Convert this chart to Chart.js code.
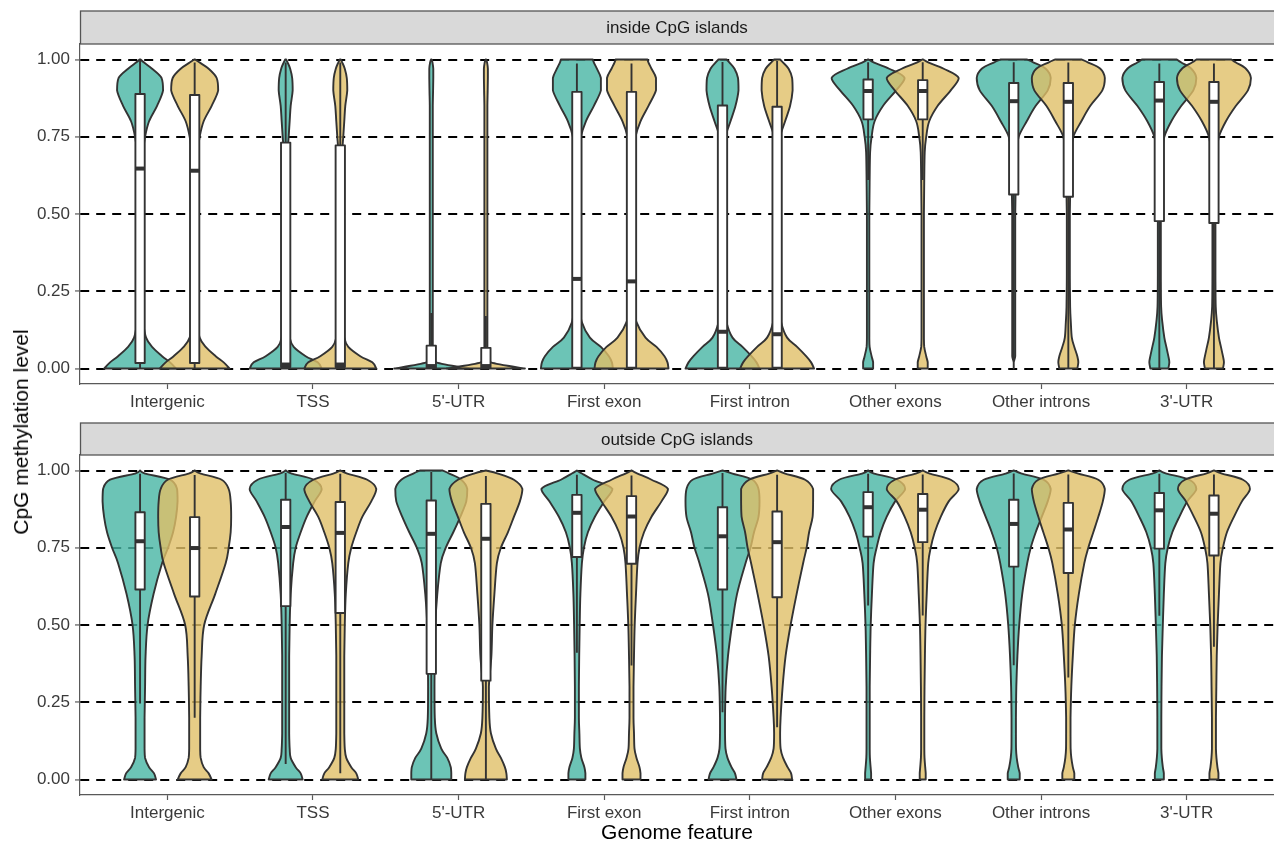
<!DOCTYPE html>
<html>
<head>
<meta charset="utf-8">
<script src="https://cdn.jsdelivr.net/npm/chart.js@4.4.0/dist/chart.umd.min.js"></script>
<style>
  body { margin: 0; background: #fff; width: 1274px; height: 844px; position: relative; overflow: hidden;
         font-family: "Liberation Sans", Arial, sans-serif; }
  #topPanel { position: absolute; left: 0; top: 0; }
  #bottomPanel { position: absolute; left: 0; top: 410px; }
  #yTitle { position: absolute; left: 21px; top: 432px; transform: translate(-50%, -50%) rotate(-90deg);
            font-size: 21px; white-space: nowrap; color: #000; }
</style>
</head>
<body>
<canvas id="topPanel" width="1274" height="410"></canvas>
<canvas id="bottomPanel" width="1274" height="434"></canvas>
<div id="yTitle">CpG methylation level</div>
<script>
// categories on the x axis
const features = ["Intergenic", "TSS", "5'-UTR", "First exon", "First intron", "Other exons", "Other introns", "3'-UTR"];
const groupNames = ["group 1", "group 2"];
const yTicks = [0, 0.25, 0.5, 0.75, 1];

// methylation levels where the violin densities are read
const levelGrid = [0, 0.02, 0.04, 0.07, 0.1, 0.15, 0.2, 0.3, 0.4, 0.5, 0.6, 0.7, 0.75, 0.8, 0.85, 0.9, 0.94, 0.97, 0.99, 1];

// relative densities (violin half widths), one row per feature
const insideTealDensity = [
  [36, 30, 22, 12, 6, 3, 2, 2, 2, 2, 2, 3, 5, 9, 17, 23, 21.5, 12, 4, 0.5],
  [36, 32, 20, 8, 4, 2.5, 2, 2, 2, 2, 2, 2, 3, 4, 5, 7, 6.5, 4.5, 2, 0.5],
  [37, 5, 2, 1.5, 1.5, 1.5, 1.5, 1.5, 1.5, 1.5, 1.5, 1.5, 1.5, 1.5, 1.5, 1.8, 2, 2, 1.2, 0.3],
  [36, 35, 32, 24, 13, 5, 3, 2.5, 2.5, 2.5, 2.5, 3, 4, 9, 17, 24, 24, 20, 17, 16],
  [37, 34, 29, 20, 10, 4, 2.5, 2, 2, 2, 2, 2.5, 3, 8, 13, 16, 15.5, 12, 7, 4],
  [5, 5, 3.5, 1.5, 1.2, 1.2, 1.2, 1.2, 1.2, 1.2, 1.5, 2, 3.5, 6.5, 15, 28, 36.5, 21, 6, 0.5],
  [0, 0, 1.5, 1.5, 1.5, 1.5, 1.5, 1.5, 1.5, 1.5, 2, 3, 5, 13, 22, 34, 37, 32, 20, 13],
  [9, 10, 9, 7, 5, 3, 1.8, 1.5, 1.5, 1.5, 1.8, 3, 5, 12, 22, 34, 37, 32, 22, 17.5]
];
const insideGoldDensity = [
  [35, 29, 21, 11, 5, 3, 2, 2, 2, 2, 2, 3, 5, 9, 17, 23.5, 22, 14, 5, 0.5],
  [36, 32, 20, 8, 4, 2.5, 2, 2, 2, 2, 2, 2, 3, 4, 5, 7, 6.5, 4.5, 2, 0.5],
  [39, 5, 2, 1.5, 1.5, 1.5, 1.5, 1.5, 1.5, 1.5, 1.5, 1.5, 1.5, 1.5, 1.5, 1.8, 2, 2, 1.2, 0.3],
  [37, 36, 33, 25, 14, 5, 3, 2.5, 2.5, 2.5, 2.5, 3, 4, 9, 17, 24.5, 24.5, 20, 17, 16],
  [37, 34, 29, 20, 10, 4, 2.5, 2, 2, 2, 2, 2.5, 3, 8, 13, 15.5, 15, 11.5, 6, 3],
  [5, 5, 3.5, 1.5, 1.2, 1.2, 1.2, 1.2, 1.2, 1.2, 1.5, 2, 3.5, 6.5, 15, 28, 36, 21, 6, 0.5],
  [9, 10, 9, 6, 3.5, 2.5, 1.8, 1.5, 1.5, 1.5, 2, 3, 5, 13, 22, 34, 36.5, 32, 20, 13],
  [9, 10, 9, 7, 5, 3, 1.8, 1.5, 1.5, 1.5, 1.8, 3, 5, 12, 22, 34, 37, 32, 22, 17.5]
];
const outsideTealDensity = [
  [16, 14, 9, 5, 4.5, 4.5, 4.5, 5, 5.5, 7.5, 13.5, 22, 28, 33, 36, 37.5, 37, 30, 5, 0],
  [17, 15, 10, 5, 4, 3.5, 3.5, 3.5, 3.5, 4, 5, 7.5, 10, 15, 21, 29, 36, 28, 6, 0],
  [20, 20, 19.5, 16, 10, 5, 3.5, 3.2, 3.5, 4, 6, 9.5, 14.5, 22, 29, 35, 36, 30, 18, 11],
  [8.5, 8.5, 7.5, 4.5, 3, 2.5, 2, 2, 2.3, 2.8, 3.5, 5, 7, 11, 18, 27.5, 35.5, 16, 5, 0],
  [14, 12.5, 9, 5, 3, 2.5, 2.5, 3.2, 5.5, 9.5, 14.5, 23, 28, 31.5, 36, 37, 36, 30, 10, 0],
  [3, 3, 2.5, 1.8, 1.6, 1.6, 1.6, 1.6, 2, 2.6, 3.8, 5.5, 8.5, 12.5, 18.5, 27, 37, 29, 6, 0],
  [6, 6, 4.5, 3, 2.3, 2.2, 2.2, 2.6, 3.7, 5.5, 8.5, 13.5, 17, 22, 28, 34, 37, 30, 8, 0],
  [4.5, 4.5, 3.5, 2.5, 2, 2, 2, 2.2, 2.6, 3.5, 4.5, 6, 8.5, 13, 20, 28, 37, 30, 7, 0]
];
const outsideGoldDensity = [
  [17, 14, 9, 6, 5.5, 5.5, 5.5, 6, 7, 9.5, 20.5, 31, 34, 36, 36.5, 36, 34, 27, 6, 0],
  [18, 16, 11, 6, 4.5, 4, 4, 4, 4, 4.5, 5.5, 8, 11, 16, 22, 31, 36, 27, 7, 0],
  [21, 20.5, 19, 15, 10, 5, 3.5, 3, 5.5, 6.5, 8.5, 11, 15, 22, 28, 34, 36.5, 28, 12, 0],
  [9, 9, 8, 5, 3, 2.5, 2, 2, 2.5, 3.2, 4.5, 6, 8, 12.5, 20, 30, 36.5, 20, 6, 0],
  [15, 14, 10.5, 6, 3.5, 3, 3.5, 5.5, 8.5, 13.5, 19.5, 26, 29.5, 32, 35.5, 36, 36, 28, 8, 0],
  [3, 3, 2.5, 1.8, 1.6, 1.6, 1.6, 1.8, 2.2, 2.8, 4, 5.5, 8, 12, 18, 26, 36, 28, 7, 0],
  [6, 6, 4.5, 3, 2.3, 2.2, 2.2, 3, 4.5, 6.5, 10.5, 16, 20, 25, 30, 34.5, 36.5, 30, 10, 0],
  [4.5, 4.5, 3.5, 2.5, 2, 2, 2, 2.4, 2.8, 3.7, 5, 6.5, 9, 13, 20, 28, 36, 29, 8, 0]
];

// box plots: [whisker low, Q1, median, Q3, whisker high]
const insideTealBox = [
  [0, 0.018, 0.647, 0.888, 1.0], [0, 0.005, 0.013, 0.731, 0.99], [0, 0.002, 0.008, 0.074, 0.18],
  [0, 0.003, 0.290, 0.895, 0.987], [0, 0.003, 0.119, 0.851, 0.992], [0.61, 0.806, 0.898, 0.935, 0.991],
  [0.03, 0.563, 0.865, 0.924, 0.991], [0, 0.477, 0.867, 0.927, 0.987]
];
const insideGoldBox = [
  [0, 0.018, 0.640, 0.885, 0.99], [0, 0.005, 0.013, 0.722, 0.99], [0, 0.002, 0.008, 0.067, 0.17],
  [0, 0.003, 0.282, 0.895, 0.987], [0, 0.003, 0.111, 0.847, 0.995], [0.61, 0.806, 0.898, 0.933, 0.991],
  [0, 0.556, 0.863, 0.924, 0.99], [0, 0.471, 0.863, 0.927, 0.987]
];
const outsideTealBox = [
  [0.246, 0.615, 0.771, 0.865, 0.989], [0.05, 0.561, 0.817, 0.905, 0.992], [0, 0.342, 0.795, 0.903, 0.995],
  [0.41, 0.720, 0.863, 0.921, 0.986], [0.218, 0.615, 0.787, 0.881, 0.992], [0.563, 0.786, 0.881, 0.930, 0.989],
  [0.37, 0.689, 0.827, 0.905, 0.99], [0.53, 0.747, 0.871, 0.927, 0.989]
];
const outsideGoldBox = [
  [0.20, 0.592, 0.749, 0.849, 0.985], [0.02, 0.539, 0.798, 0.898, 0.989], [0, 0.320, 0.779, 0.892, 0.982],
  [0.369, 0.698, 0.851, 0.917, 0.984], [0.169, 0.590, 0.768, 0.867, 0.986], [0.531, 0.768, 0.873, 0.924, 0.987],
  [0.33, 0.668, 0.809, 0.895, 0.987], [0.43, 0.725, 0.860, 0.919, 0.987]
];

const TEAL = 'rgba(71,181,164,0.8)';
const GOLD = 'rgba(224,191,104,0.8)';
const OUTLINE = '#333333';
const DODGE = 0.1875;          // x offset of each group
const DENSITY_UNIT = 1 / 145.6; // x units per density unit
const BOX_HALF = 0.032;        // box half width in x units
const AXIS_GREY = '#595959';
const TEXT_GREY = '#3a3a3a';

function clamp(v, lo, hi) { return Math.max(lo, Math.min(hi, v)); }

function traceSide(ctx, pts, cx, sign, first) {
  const n = pts.length;
  if (first) ctx.moveTo(cx + sign * pts[0].w, pts[0].y);
  else ctx.lineTo(cx + sign * pts[0].w, pts[0].y);
  for (let i = 0; i < n - 1; i++) {
    const p0 = pts[Math.max(i - 1, 0)], p1 = pts[i], p2 = pts[i + 1], p3 = pts[Math.min(i + 2, n - 1)];
    const lo = Math.min(p1.w, p2.w), hi = Math.max(p1.w, p2.w);
    const c1w = clamp(p1.w + (p2.w - p0.w) / 6, lo, hi);
    const c2w = clamp(p2.w - (p3.w - p1.w) / 6, lo, hi);
    const c1y = p1.y + (p2.y - p0.y) / 6;
    const c2y = p2.y - (p3.y - p1.y) / 6;
    ctx.bezierCurveTo(cx + sign * c1w, c1y, cx + sign * c2w, c2y, cx + sign * p2.w, p2.y);
  }
}

function drawViolin(ctx, xs, ys, xVal, dens, fill) {
  const cx = xs.getPixelForValue(xVal);
  const pxPerUnit = xs.getPixelForValue(xVal + 1) - cx;
  const pts = levelGrid.map((v, k) => ({ y: ys.getPixelForValue(v), w: dens[k] * DENSITY_UNIT * pxPerUnit }));
  ctx.beginPath();
  traceSide(ctx, pts, cx, 1, true);
  traceSide(ctx, pts.slice().reverse(), cx, -1, false);
  ctx.closePath();
  ctx.fillStyle = fill;
  ctx.fill();
  ctx.lineWidth = 1.9;
  ctx.lineJoin = 'round';
  ctx.strokeStyle = OUTLINE;
  ctx.stroke();
}

function drawBox(ctx, xs, ys, xVal, b) {
  const [lo, q1, med, q3, hi] = b;
  const cx = xs.getPixelForValue(xVal);
  const half = xs.getPixelForValue(xVal + BOX_HALF) - cx;
  const yq1 = ys.getPixelForValue(q1), yq3 = ys.getPixelForValue(q3), ym = ys.getPixelForValue(med);
  ctx.strokeStyle = OUTLINE;
  ctx.lineWidth = 1.9;
  ctx.beginPath();
  ctx.moveTo(cx, ys.getPixelForValue(lo)); ctx.lineTo(cx, yq1);
  ctx.moveTo(cx, yq3); ctx.lineTo(cx, ys.getPixelForValue(hi));
  ctx.stroke();
  ctx.fillStyle = '#fff';
  ctx.fillRect(cx - half, yq3, 2 * half, yq1 - yq3);
  ctx.strokeRect(cx - half, yq3, 2 * half, yq1 - yq3);
  ctx.lineWidth = 4;
  ctx.beginPath();
  ctx.moveTo(cx - half, ym); ctx.lineTo(cx + half, ym);
  ctx.stroke();
}

function makeViolinPlugin(groups) {
  return {
    id: 'violins',
    afterDatasetsDraw(chart) {
      const { ctx, scales: { x, y } } = chart;
      ctx.save();
      features.forEach((f, i) => groups.forEach(g => drawViolin(ctx, x, y, i + 1 + g.offset, g.density[i], g.fill)));
      features.forEach((f, i) => groups.forEach(g => drawBox(ctx, x, y, i + 1 + g.offset, g.box[i])));
      ctx.restore();
    }
  };
}

function makeStripPlugin(text, stripTop) {
  return {
    id: 'strip',
    afterDraw(chart) {
      const { ctx, chartArea } = chart;
      ctx.save();
      const left = chartArea.left + 0.5, h = chartArea.top - stripTop;
      ctx.fillStyle = '#D9D9D9';
      ctx.fillRect(left, stripTop, chartArea.right - left + 2, h);
      ctx.strokeStyle = '#555555';
      ctx.lineWidth = 1.3;
      ctx.strokeRect(left, stripTop, chartArea.right - left + 2, h);
      ctx.fillStyle = '#1a1a1a';
      ctx.font = '17px "Liberation Sans", Arial, sans-serif';
      ctx.textAlign = 'center';
      ctx.textBaseline = 'middle';
      ctx.fillText(text, (chartArea.left + chartArea.right) / 2, stripTop + h / 2 + 1);
      ctx.restore();
    }
  };
}

function makePanel(canvasId, stripText, stripTop, padTop, xHeight, tealDensity, goldDensity, tealBox, goldBox, showTitle) {
  const groups = [
    { offset: -DODGE, density: tealDensity, box: tealBox, fill: TEAL },
    { offset: DODGE, density: goldDensity, box: goldBox, fill: GOLD }
  ];
  return new Chart(document.getElementById(canvasId), {
    type: 'scatter',
    data: {
      datasets: groups.map((g, k) => ({
        label: groupNames[k],
        data: features.map((f, i) => ({ x: i + 1 + g.offset, y: g.box[i][2] })),
        pointRadius: 0,
        backgroundColor: g.fill
      }))
    },
    options: {
      responsive: false,
      animation: false,
      events: [],
      layout: { padding: { top: padTop, left: 0, right: 0, bottom: 0 } },
      plugins: { legend: { display: false }, tooltip: { enabled: false } },
      scales: {
        x: {
          type: 'linear', min: 0.4, max: 8.6,
          afterBuildTicks: s => { s.ticks = features.map((f, i) => ({ value: i + 1 })); },
          afterFit: s => { s.height = xHeight; },
          ticks: {
            callback: (v, i) => features[i], autoSkip: false, maxRotation: 0,
            font: { size: 17, family: '"Liberation Sans", Arial, sans-serif' }, color: TEXT_GREY, padding: 3
          },
          grid: { drawOnChartArea: false, drawTicks: true, tickLength: 5, tickColor: AXIS_GREY, tickWidth: 1.2 },
          border: { display: true, color: AXIS_GREY, width: 1.2 },
          title: {
            display: showTitle, text: 'Genome feature', color: '#000',
            font: { size: 21, family: '"Liberation Sans", Arial, sans-serif', lineHeight: 1 },
            padding: { top: 0, bottom: 0 }
          }
        },
        y: {
          type: 'linear', min: -0.05, max: 1.05,
          afterBuildTicks: s => { s.ticks = yTicks.map(v => ({ value: v })); },
          afterFit: s => { s.width = 80; },
          ticks: {
            callback: v => v.toFixed(2),
            font: { size: 17, family: '"Liberation Sans", Arial, sans-serif' }, color: TEXT_GREY, padding: 5
          },
          grid: { color: '#000', lineWidth: 1.9, drawTicks: true, tickLength: 5, tickColor: AXIS_GREY, tickWidth: 1.2 },
          border: { display: true, color: AXIS_GREY, width: 1.2, dash: [9, 7] }
        }
      }
    },
    plugins: [makeViolinPlugin(groups), makeStripPlugin(stripText, stripTop)]
  });
}

makePanel('topPanel', 'inside CpG islands', 11, 44, 26,
  insideTealDensity, insideGoldDensity, insideTealBox, insideGoldBox, false);
makePanel('bottomPanel', 'outside CpG islands', 13, 45, 49,
  outsideTealDensity, outsideGoldDensity, outsideTealBox, outsideGoldBox, true);
</script>
</body>
</html>
